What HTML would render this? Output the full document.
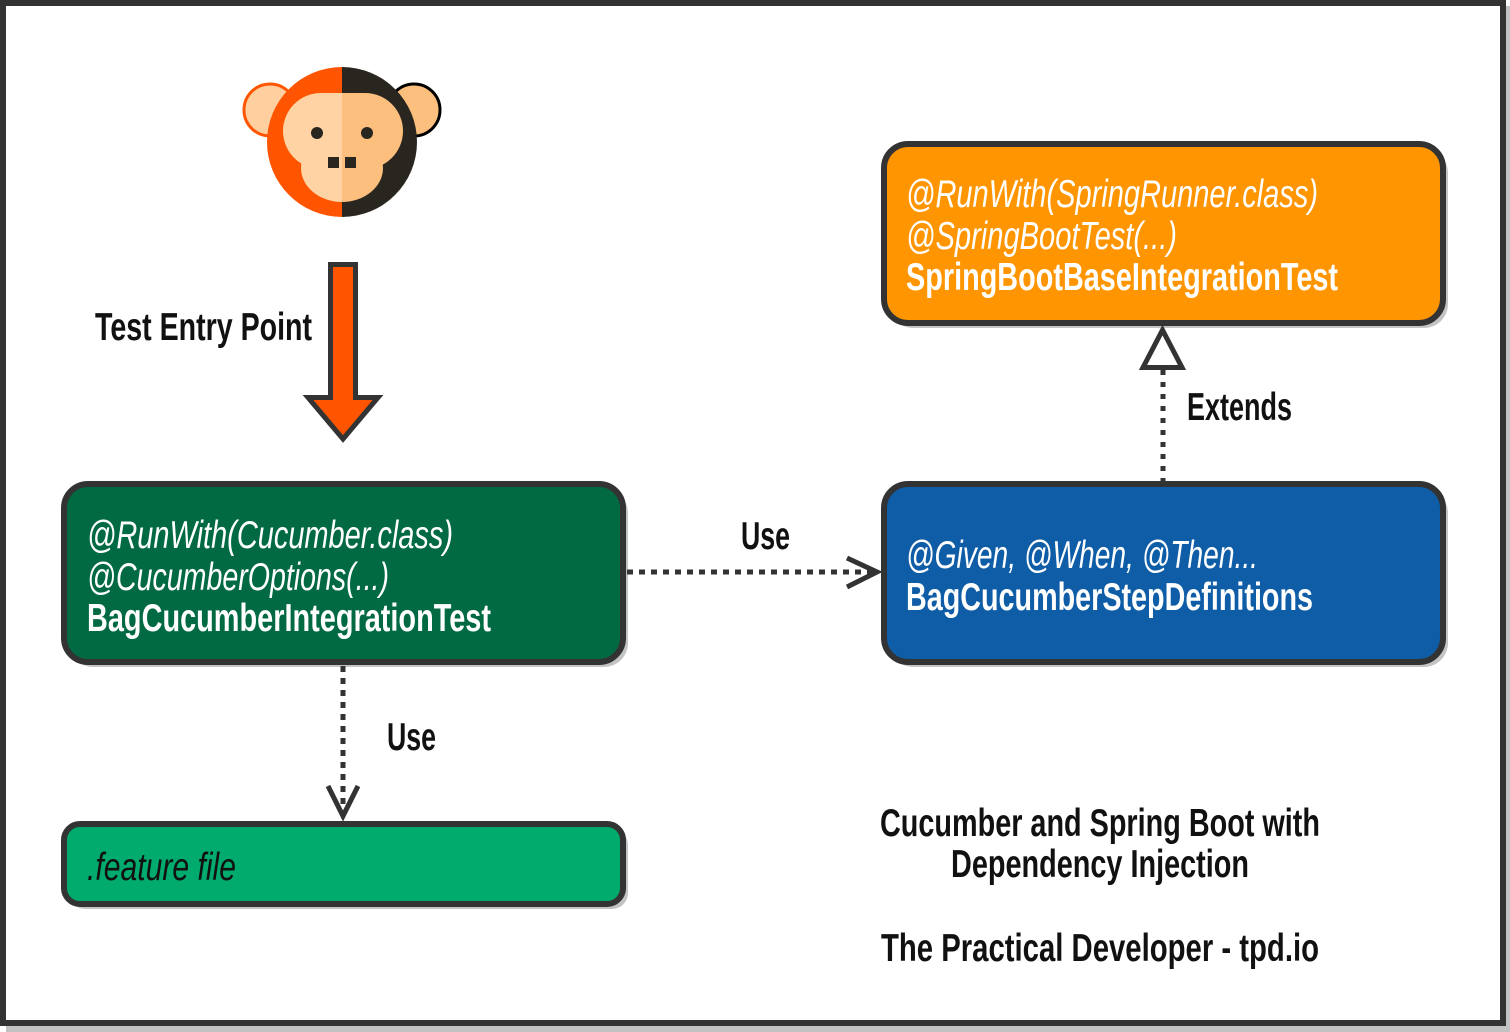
<!DOCTYPE html>
<html>
<head>
<meta charset="utf-8">
<style>
  html,body{margin:0;padding:0;background:#fff;}
  svg{display:block;}
  text{font-family:"Liberation Sans", sans-serif;}
</style>
</head>
<body>
<svg width="1510" height="1032" viewBox="0 0 1510 1032" xmlns="http://www.w3.org/2000/svg">
  <defs>
    <clipPath id="leftHalf"><rect x="0" y="0" width="342" height="400"/></clipPath>
    <clipPath id="rightHalf"><rect x="342" y="0" width="400" height="400"/></clipPath>
  </defs>

  <!-- frame shadow -->
  <rect x="6" y="1026" width="1504" height="6" fill="#c2c2c2"/>
  <rect x="1506" y="6" width="4" height="1026" fill="#c2c2c2"/>
  <!-- frame -->
  <rect x="0" y="0" width="1506" height="1026" fill="#fff"/>
  <rect x="3" y="3" width="1500" height="1020" fill="none" stroke="#333333" stroke-width="6"/>

  <!-- Monkey -->
  <circle cx="270" cy="110" r="26" fill="#ffcf9f" stroke="#ff5500" stroke-width="3"/>
  <circle cx="414" cy="110" r="26" fill="#fdbf7d" stroke="#000" stroke-width="3"/>
  <g clip-path="url(#leftHalf)">
    <circle cx="342" cy="142" r="75" fill="#ff5500"/>
    <rect x="283" y="93" width="120" height="76" rx="38" fill="#ffd3a3"/>
    <ellipse cx="342" cy="168" rx="41" ry="34" fill="#ffd3a3"/>
  </g>
  <g clip-path="url(#rightHalf)">
    <circle cx="342" cy="142" r="75" fill="#29251f"/>
    <rect x="283" y="93" width="120" height="76" rx="38" fill="#fdbf7d"/>
    <ellipse cx="342" cy="168" rx="41" ry="34" fill="#fdbf7d"/>
  </g>
  <circle cx="317" cy="133" r="6" fill="#29251f"/>
  <circle cx="367" cy="133" r="6" fill="#29251f"/>
  <rect x="328" y="157" width="11" height="11" fill="#29251f"/>
  <rect x="345" y="157" width="11" height="11" fill="#29251f"/>

  <!-- Orange entry arrow -->
  <path d="M330.5,264.5 L355.5,264.5 L355.5,397.5 L378,397.5 L343,439 L308,397.5 L330.5,397.5 Z"
        fill="#ff5500" stroke="#333333" stroke-width="5" stroke-linejoin="miter"/>
  <text x="95" y="340" font-size="39" font-weight="bold" fill="#111" textLength="217" lengthAdjust="spacingAndGlyphs">Test Entry Point</text>

  <!-- Orange box -->
  <rect x="889" y="149" width="559" height="179" rx="24" fill="#c4c4c4"/>
  <rect x="884" y="144" width="559" height="179" rx="24" fill="#ff9500" stroke="#333333" stroke-width="6"/>
  <text x="906" y="207" font-size="39" font-style="italic" fill="#fff" textLength="412" lengthAdjust="spacingAndGlyphs">@RunWith(SpringRunner.class)</text>
  <text x="906" y="249" font-size="39" font-style="italic" fill="#fff" textLength="271" lengthAdjust="spacingAndGlyphs">@SpringBootTest(...)</text>
  <text x="906" y="290" font-size="39" font-weight="bold" fill="#fff" textLength="432" lengthAdjust="spacingAndGlyphs">SpringBootBaseIntegrationTest</text>

  <!-- Extends connector -->
  <line x1="1163" y1="370" x2="1163" y2="481" stroke="#333333" stroke-width="5" stroke-dasharray="5 7"/>
  <path d="M1162.5,330 L1182,367.5 L1143,367.5 Z" fill="#fff" stroke="#333333" stroke-width="5" stroke-linejoin="miter"/>
  <text x="1187" y="420" font-size="39" font-weight="bold" fill="#111" textLength="105" lengthAdjust="spacingAndGlyphs">Extends</text>

  <!-- Green box -->
  <rect x="69" y="489" width="559" height="178" rx="24" fill="#c4c4c4"/>
  <rect x="64" y="484" width="559" height="178" rx="24" fill="#016a42" stroke="#333333" stroke-width="6"/>
  <text x="87" y="548" font-size="39" font-style="italic" fill="#fff" textLength="366" lengthAdjust="spacingAndGlyphs">@RunWith(Cucumber.class)</text>
  <text x="87" y="590" font-size="39" font-style="italic" fill="#fff" textLength="302" lengthAdjust="spacingAndGlyphs">@CucumberOptions(...)</text>
  <text x="87" y="631" font-size="39" font-weight="bold" fill="#fff" textLength="404" lengthAdjust="spacingAndGlyphs">BagCucumberIntegrationTest</text>

  <!-- Blue box -->
  <rect x="889" y="489" width="559" height="178" rx="24" fill="#c4c4c4"/>
  <rect x="884" y="484" width="559" height="178" rx="24" fill="#0e5da6" stroke="#333333" stroke-width="6"/>
  <text x="906" y="568" font-size="39" font-style="italic" fill="#fff" textLength="352" lengthAdjust="spacingAndGlyphs">@Given, @When, @Then...</text>
  <text x="906" y="610" font-size="39" font-weight="bold" fill="#fff" textLength="407" lengthAdjust="spacingAndGlyphs">BagCucumberStepDefinitions</text>

  <!-- Horizontal Use connector -->
  <line x1="627" y1="572" x2="872" y2="572" stroke="#333333" stroke-width="5" stroke-dasharray="6 6"/>
  <path d="M847,558 L877,572 L847,587" fill="none" stroke="#333333" stroke-width="5" stroke-linejoin="miter"/>
  <text x="741" y="549" font-size="39" font-weight="bold" fill="#111" textLength="49" lengthAdjust="spacingAndGlyphs">Use</text>

  <!-- Vertical Use connector -->
  <line x1="343" y1="666" x2="343" y2="812" stroke="#333333" stroke-width="5" stroke-dasharray="6 6"/>
  <path d="M328,786 L343,816 L358,786" fill="none" stroke="#333333" stroke-width="5" stroke-linejoin="miter"/>
  <text x="387" y="750" font-size="39" font-weight="bold" fill="#111" textLength="49" lengthAdjust="spacingAndGlyphs">Use</text>

  <!-- Feature file box -->
  <rect x="69" y="829" width="559" height="80" rx="16" fill="#c4c4c4"/>
  <rect x="64" y="824" width="559" height="80" rx="16" fill="#00ab6d" stroke="#333333" stroke-width="6"/>
  <text x="87" y="880" font-size="39" font-style="italic" fill="#111" textLength="149" lengthAdjust="spacingAndGlyphs">.feature file</text>

  <!-- Caption -->
  <text x="880" y="836" font-size="39" font-weight="bold" fill="#111" textLength="440" lengthAdjust="spacingAndGlyphs">Cucumber and Spring Boot with</text>
  <text x="951" y="877" font-size="39" font-weight="bold" fill="#111" textLength="298" lengthAdjust="spacingAndGlyphs">Dependency Injection</text>
  <text x="881" y="961" font-size="39" font-weight="bold" fill="#111" textLength="438" lengthAdjust="spacingAndGlyphs">The Practical Developer - tpd.io</text>
</svg>
</body>
</html>
